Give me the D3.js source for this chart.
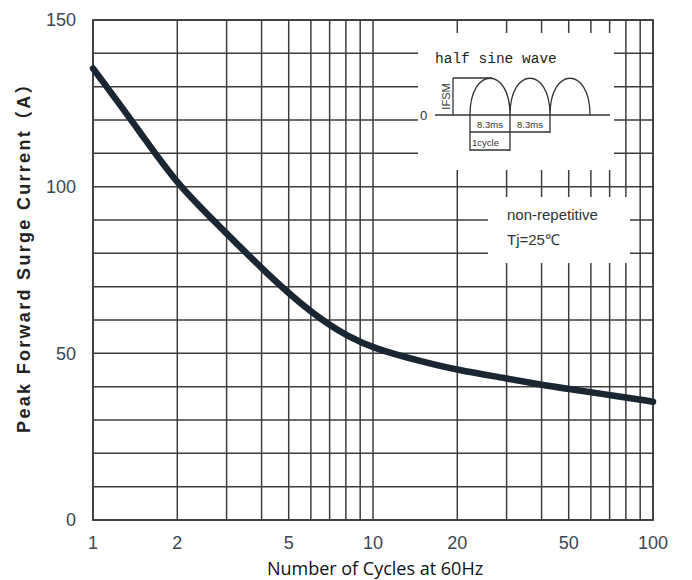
<!DOCTYPE html>
<html>
  <head>
    <meta charset="utf-8">
    <title>Peak Forward Surge Current</title>
    <script type="text/javascript" src="https://cdn.jsdelivr.net/npm/d3@7"></script>
    <style type='text/css'>
      body { margin: 0; background: #fff; }
      .grid line { stroke: #3d3d3d; stroke-width: 1.5; }
      .tick-label { font-family: "Liberation Sans", Arial, sans-serif; font-size: 18px; fill: #3b4653; }
      .note { font-family: "Liberation Sans", Arial, sans-serif; font-size: 15px; fill: #333; }
      .inset line, .inset path { stroke: #333; stroke-width: 1.3; fill: none; }
      .inset text { font-family: "Liberation Sans", Arial, sans-serif; font-size: 9.5px; fill: #333; }
    </style>
  </head>
  <body>
    <script type="text/javascript">
      // curve
      var cycles  = [1, 1.5, 2, 3, 4, 5, 6, 7, 8, 10, 15, 20, 30, 40, 50, 70, 100];
      var current = [135.5, 115.5, 100.5, 86, 75.5, 68, 62.5, 58.5, 55.5, 51.5, 47.5, 45, 42.5, 40.5, 39.3, 37.5, 35.5];

      var xGrid = [1, 2, 3, 4, 5, 6, 7, 8, 9, 10, 20, 30, 40, 50, 60, 70, 80, 90, 100];
      var xLabels = [1, 2, 5, 10, 20, 50, 100];
      var yGrid = d3.range(0, 151, 10);
      var yLabels = [0, 50, 100, 150];

      var w = 692, h = 580;
      var padLeft = 93, padRight = 653, padTop = 20, padBottom = 520;

      var xScale = d3.scaleLog().domain([1, 100]).range([padLeft, padRight]);
      var yScale = d3.scaleLinear().domain([0, 150]).range([padBottom, padTop]);

      var svg = d3.select('body').append('svg')
                  .attr('width', w)
                  .attr('height', h);

      var grid = svg.append('g').attr('class', 'grid');

      grid.selectAll('line.v')
        .data(xGrid)
        .enter()
        .append('line')
        .attr('class', 'v')
        .attr('x1', function(d) {return xScale(d);})
        .attr('x2', function(d) {return xScale(d);})
        .attr('y1', padTop)
        .attr('y2', padBottom);

      grid.selectAll('line.h')
        .data(yGrid)
        .enter()
        .append('line')
        .attr('class', 'h')
        .attr('x1', padLeft)
        .attr('x2', padRight)
        .attr('y1', function(d) {return yScale(d);})
        .attr('y2', function(d) {return yScale(d);});

      // white boxes behind the annotations
      svg.append('rect')
        .attr('x', 418).attr('y', 33)
        .attr('width', 196).attr('height', 137)
        .attr('fill', '#fff');
      svg.append('rect')
        .attr('x', 488).attr('y', 197)
        .attr('width', 142).attr('height', 66)
        .attr('fill', '#fff');

      // frame on top
      svg.append('rect')
        .attr('x', padLeft).attr('y', padTop)
        .attr('width', padRight - padLeft).attr('height', padBottom - padTop)
        .attr('fill', 'none')
        .attr('stroke', '#3d3d3d')
        .attr('stroke-width', 1.8);

      // tick labels
      svg.selectAll('text.ylab')
        .data(yLabels)
        .enter()
        .append('text')
        .attr('class', 'tick-label')
        .attr('x', padLeft - 17)
        .attr('y', function(d) {return yScale(d);})
        .attr('dy', '0.35em')
        .style('text-anchor', 'end')
        .text(function(d) {return d;});

      svg.selectAll('text.xlab')
        .data(xLabels)
        .enter()
        .append('text')
        .attr('class', 'tick-label')
        .attr('x', function(d) {return xScale(d);})
        .attr('y', padBottom + 23)
        .attr('dy', '0.35em')
        .style('text-anchor', 'middle')
        .text(function(d) {return d;});

      // axis titles
      svg.append('text')
        .attr('transform', 'translate(30,' + 253 + ') rotate(-90)')
        .style('text-anchor', 'middle')
        .style('font-family', '"Liberation Sans", Arial, "Noto Sans CJK SC", sans-serif')
        .style('font-weight', 'bold')
        .style('font-size', '18px')
        .style('letter-spacing', '2.3px')
        .style('fill', '#222')
        .text('Peak Forward Surge Current（A）');

      svg.append('text')
        .attr('x', 375)
        .attr('y', 575)
        .style('text-anchor', 'middle')
        .style('font-family', '"Open Sans", sans-serif')
        .style('font-size', '18px')
        .style('fill', '#111')
        .text('Number of Cycles at 60Hz');

      // the curve
      var points = cycles.map(function(c, i) {return [c, current[i]];});
      var line = d3.line()
                   .x(function(d) {return xScale(d[0]);})
                   .y(function(d) {return yScale(d[1]);})
                   .curve(d3.curveBasis);

      svg.append('path')
        .datum(points)
        .attr('d', line)
        .attr('fill', 'none')
        .attr('stroke', '#1a2631')
        .attr('stroke-width', 6.5)
        .attr('stroke-linecap', 'round');

      // conditions note
      svg.append('text').attr('class', 'note')
        .attr('x', 507).attr('y', 220)
        .text('non-repetitive');
      svg.append('text').attr('class', 'note')
        .attr('x', 507).attr('y', 245)
        .text('Tj=25℃');

      // half sine wave inset
      var inset = svg.append('g').attr('class', 'inset');
      inset.append('text')
        .attr('x', 435).attr('y', 63)
        .style('font-family', '"Liberation Mono", "DejaVu Sans Mono", monospace')
        .style('font-size', '14.5px')
        .style('fill', '#222')
        .text('half sine wave');

      var base = 115, peak = 78, x0 = 470, hw = 40;
      inset.append('line').attr('x1', 435).attr('x2', 610).attr('y1', base).attr('y2', base);
      inset.append('text')
        .attr('x', 420).attr('y', base).attr('dy', '0.35em')
        .style('font-size', '13px')
        .text('0');

      var arch = d3.path();
      [0, 1, 2].forEach(function(i) {
        var a = x0 + i * hw;
        arch.moveTo(a, base);
        arch.bezierCurveTo(a, peak - 12, a + hw, peak - 12, a + hw, base);
      });
      inset.append('path').attr('d', arch.toString());

      // IFSM dimension
      inset.append('line').attr('x1', 453).attr('x2', 492).attr('y1', peak).attr('y2', peak);
      inset.append('line').attr('x1', 453).attr('x2', 453).attr('y1', peak).attr('y2', base);
      inset.append('text')
        .attr('transform', 'translate(450,' + (peak + base) / 2 + ') rotate(-90)')
        .style('text-anchor', 'middle')
        .style('font-size', '11px')
        .text('IFSM');

      // 8.3ms dimensions
      [0, 1, 2].forEach(function(i) {
        inset.append('line')
          .attr('x1', x0 + i * hw).attr('x2', x0 + i * hw)
          .attr('y1', base).attr('y2', i === 2 ? 133 : 151);
      });
      inset.append('line').attr('x1', x0).attr('x2', x0 + 2 * hw).attr('y1', 132).attr('y2', 132);
      inset.append('line').attr('x1', x0).attr('x2', x0 + hw).attr('y1', 150).attr('y2', 150);
      [0, 1].forEach(function(i) {
        inset.append('text')
          .attr('x', x0 + i * hw + hw / 2).attr('y', 128)
          .style('text-anchor', 'middle')
          .text('8.3ms');
      });
      inset.append('text')
        .attr('x', x0 + 2).attr('y', 146)
        .text('1cycle');
    </script>
  </body>
</html>
